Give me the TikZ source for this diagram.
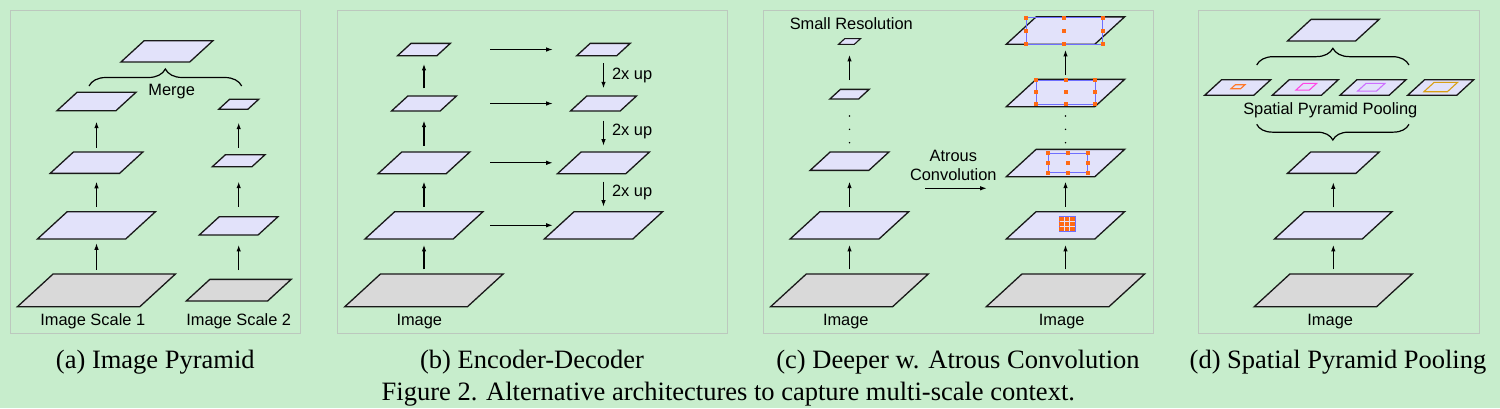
\documentclass[tikz,border=0pt]{standalone}
\usepackage{fontspec}
\setmainfont{Liberation Serif}
\setsansfont{Liberation Sans}
\usetikzlibrary{arrows.meta,decorations.pathreplacing}
\definecolor{bg}{RGB}{199,237,204}
\definecolor{frame}{RGB}{188,200,190}
\definecolor{lav}{RGB}{226,226,250}
\definecolor{img}{RGB}{217,217,217}
\definecolor{kern}{RGB}{110,110,255}
\definecolor{tap}{RGB}{255,106,20}
\definecolor{poolA}{RGB}{255,120,40}
\definecolor{poolB}{RGB}{255,70,230}
\definecolor{poolC}{RGB}{205,110,255}
\definecolor{poolD}{RGB}{215,160,20}
\tikzset{
  box/.style   = {rectangle, inner sep=0pt, outer sep=0pt},
  sheet/.style = {draw=black!90, line width=1.3pt, fill=lav},
  image/.style = {sheet, fill=img},
  pool/.style  = {sheet, line width=1.1pt, draw=#1},
  arr/.style   = {-{Latex[length=6.5pt,width=4.5pt]}, line width=1.1pt},
  skip/.style  = {arr, shorten <=66pt, shorten >=50.8pt},
  lbl/.style   = {font=\sffamily\fontsize{16.4}{18.7}\selectfont, inner sep=0pt},
  capt/.style  = {font=\fontsize{26.5}{30}\selectfont, inner sep=0pt, anchor=base},
  panel/.style = {draw=frame, line width=1pt},
  brace/.style = {decorate, decoration={brace, amplitude=#1pt}, line width=1.2pt},
  kernel/.style = {draw=kern, line width=1pt}
}
% feature map: [style]{name}{x,y}{width}{height}
\newcommand\plane[5][sheet]{%
  \node[box, minimum width=#4pt, minimum height=#5pt] (#2) at (#3) {};
  \draw[#1] (#2.south west) -- ++({#4-1.09*#5},0) -- (#2.north east)
            -- ++({1.09*#5-#4},0) -- cycle;
}

\begin{document}
\begin{tikzpicture}[x=1pt, y=-1pt]
  \fill[bg] (0,0) rectangle (1500,408);
  \useasboundingbox (0,0) rectangle (1500,408);

  \draw[panel] (10,10) rectangle (300.7,333);
  \draw[panel] (337,10) rectangle (727,333);
  \draw[panel] (763,10) rectangle (1153,333);
  \draw[panel] (1198,10) rectangle (1479,333);

  % (a) image pyramid
  \plane[image]{a0}{96.5,290.3}{158}{32.7}
  \plane{a1}{96.5,225.3}{118}{27.3}
  \plane{a2}{96.5,162.7}{92.6}{21.3}
  \plane{a3}{96.5,101.5}{79}{18.4}
  \plane[image]{b0}{238.7,290.2}{105}{21.7}
  \plane{b1}{238.7,225.8}{78.7}{18.3}
  \plane{b2}{238.7,160.7}{52.7}{12}
  \plane{b3}{238.7,104.3}{40}{10}
  \plane{am}{167,51.3}{92}{21.3}
  \draw[arr, shorten <=4pt, shorten >=4.3pt] (a0) -- (a1);
  \draw[arr, shorten <=5pt, shorten >=8.4pt] (a1) -- (a2);
  \draw[arr, shorten <=4.3pt, shorten >=11pt] (a2) -- (a3);
  \draw[arr, shorten <=9.3pt, shorten >=10pt] (b0) -- (b1);
  \draw[arr, shorten <=10pt, shorten >=15pt] (b1) -- (b2);
  \draw[arr, shorten <=7pt, shorten >=13.4pt] (b2) -- (b3);
  \coordinate (mergeL) at (89,86);
  \coordinate (mergeR) at (241.7,86);
  \draw[brace=17] (mergeL) -- (mergeR);
  \node[lbl, anchor=base] (merge) at (171.7,95) {Merge};
  \node[lbl, anchor=base] (scale1) at (92.8,325) {Image Scale 1};
  \node[lbl, anchor=base] (scale2) at (238.7,325) {Image Scale 2};

  % (b) encoder-decoder
  \plane[image]{e0}{424,290.3}{158.3}{32.7}
  \plane{e1}{424,225.3}{118}{27.3}
  \plane{e2}{424,162.8}{91.7}{21.7}
  \plane{e3}{424,103.5}{65}{15}
  \plane{e4}{424,49.5}{52.7}{12.3}
  \plane{d1}{603.5,225.3}{118.3}{27.3}
  \plane{d2}{603.5,162.8}{92}{21.7}
  \plane{d3}{603.5,103.5}{66}{15}
  \plane{d4}{603.5,49.5}{53.4}{12.3}
  \draw[arr, shorten <=4.7pt, shorten >=6pt] (e0) -- (e1);
  \draw[arr, shorten <=5pt, shorten >=8pt] (e1) -- (e2);
  \draw[arr, shorten <=6.3pt, shorten >=9.7pt] (e2) -- (e3);
  \draw[arr, shorten <=7.7pt, shorten >=8.3pt] (e3) -- (e4);
  \foreach \i in {1,...,4}
    \draw[skip] (e\i.center) -- (d\i.center);
  \draw[arr, shorten <=7.6pt, shorten >=7.7pt] (d4) -- node[lbl, right=8pt] {2x up} (d3);
  \draw[arr, shorten <=9.7pt, shorten >=6.3pt] (d3) -- node[lbl, right=8pt] {2x up} (d2);
  \draw[arr, shorten <=8pt, shorten >=5pt] (d2) -- node[lbl, right=8pt] {2x up} (d1);
  \node[lbl, anchor=base] (imgb) at (419.3,325) {Image};

  % (c) deeper w. atrous convolution
  \plane[image]{c0}{849.5,290.3}{157.6}{32.7}
  \plane{c1}{849.5,225.3}{118.6}{27.3}
  \plane{c2}{849.5,161.2}{78.7}{18.3}
  \plane{c3}{849.5,94.2}{39.3}{9.7}
  \plane[sheet, line width=1.1pt]{c4}{849.5,41.5}{22}{5.7}
  \draw[arr, shorten <=4.7pt, shorten >=6pt] (c0) -- (c1);
  \draw[arr, shorten <=5pt, shorten >=11.3pt] (c1) -- (c2);
  \draw[arr, shorten <=9.3pt, shorten >=10.6pt] (c3) -- (c4);
  \foreach \y in {116,129.3,142.7}
    \fill (849.5,\y) circle (0.8pt);
  \node[lbl, anchor=base] (small) at (851.3,29.3) {Small Resolution};
  \node[lbl, anchor=base] (imgc) at (845.8,325) {Image};

  \plane[image]{f0}{1065.5,290.3}{158.3}{32.7}
  \plane{f1}{1065.5,225.3}{118.3}{27.3}
  \plane{f2}{1065.5,163}{118.3}{27.3}
  \plane{f3}{1065.5,93}{118.3}{27.3}
  \plane{f4}{1065.5,30.5}{118.3}{27.3}
  \draw[arr, shorten <=4.7pt, shorten >=6pt] (f0) -- (f1);
  \draw[arr, shorten <=5pt, shorten >=5pt] (f1) -- (f2);
  \draw[arr, shorten <=4.3pt, shorten >=5.8pt] (f3) -- (f4);
  \foreach \y in {116,129.3,142.7}
    \fill (1065.5,\y) circle (0.8pt);
  % atrous rates
  \draw[kernel] (1059,216.7) rectangle (1075,231.7);
  \foreach \i in {0,1,2}
    \foreach \j in {0,1,2}
      \fill[tap] ({1059+5.7*\i},{216.7+5.2*\j}) rectangle ++(4.5,4.2);
  \foreach \xa/\ya/\xb/\yb in {1048.3/153.3/1087.7/172.7,
                               1036/80/1095/104,
                               1026/17.7/1102.7/44.3} {
    \draw[kernel] (\xa,\ya) rectangle (\xb,\yb);
    \foreach \u in {0,0.5,1}
      \foreach \v in {0,0.5,1}
        \fill[tap] ({\xa+\u*(\xb-\xa)-2},{\ya+\v*(\yb-\ya)-2}) rectangle ++(4,4);
  }
  \node[lbl, align=center, anchor=north] (atrous) at (953.3,150) {Atrous\\Convolution};
  \coordinate (atrousL) at (925,188.3);
  \coordinate (atrousR) at (986.7,188.3);
  \draw[arr] (atrousL) -- (atrousR);
  \node[lbl, anchor=base] (imgf) at (1061.7,325) {Image};

  % (d) spatial pyramid pooling
  \plane[image]{g0}{1333.3,290.3}{158}{32.7}
  \plane{g1}{1333.3,225.3}{117.6}{27.3}
  \plane{g2}{1333.3,162.7}{91.7}{21.3}
  \plane{gt}{1333.3,30.2}{91.7}{21.7}
  \draw[arr, shorten <=4.7pt, shorten >=6pt] (g0) -- (g1);
  \draw[arr, shorten <=4.4pt, shorten >=9pt] (g1) -- (g2);
  \plane{p1}{1237.8,87.4}{66}{15.5}
  \plane{p2}{1305.4,87.4}{66}{15.5}
  \plane{p3}{1373.1,87.4}{66}{15.5}
  \plane{p4}{1440.8,87.4}{66}{15.5}
  \plane[pool=poolA]{bin1}{1238,86.7}{14}{4}
  \plane[pool=poolB]{bin2}{1306.3,86.7}{20.7}{6.7}
  \plane[pool=poolC]{bin3}{1371.3,87.2}{27.3}{7.7}
  \plane[pool=poolD]{bin4}{1440.8,87}{33.7}{9.4}
  \coordinate (sppL) at (1256.7,124.3);
  \coordinate (sppR) at (1409,124.3);
  \draw[brace=15.7] (sppR) -- (sppL);
  \coordinate (catL) at (1256.7,65);
  \coordinate (catR) at (1409,65);
  \draw[brace=16.7] (catL) -- (catR);
  \node[lbl, anchor=base] (spp) at (1330.3,114) {Spatial Pyramid Pooling};
  \node[lbl, anchor=base] (imgd) at (1330.2,325) {Image};

  % captions
  \node[capt] (capa) at (155.3,368.3) {(a) Image Pyramid};
  \node[capt] (capb) at (532,368.3) {(b) Encoder-Decoder};
  \node[capt] (capc) at (958,368.3) {(c) Deeper w. Atrous Convolution};
  \node[capt] (capd) at (1338,368.3) {(d) Spatial Pyramid Pooling};
  \node[capt] (fig) at (728.3,400) {Figure 2. Alternative architectures to capture multi-scale context.};
\end{tikzpicture}
\end{document}
